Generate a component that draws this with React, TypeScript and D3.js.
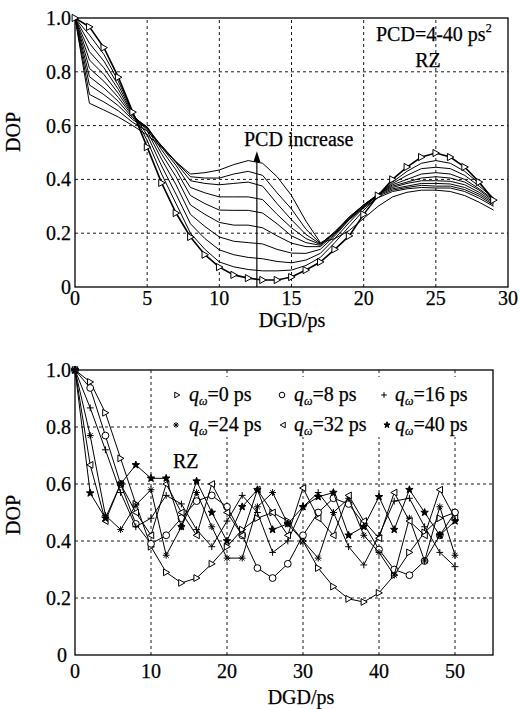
import React from 'react';
import * as d3 from 'd3';

// ---------- Top chart data ----------
const TOP_X = [0,1,2,3,4,5,6,7,8,9,10,11,12,13,14,15,16,17,18,19,20,21,22,23,24,25,26,27,28,29];
const PCD_VALUES = [4,8,12,16,20,24,28,32,36,40];
const PCD4 = [1,0.967,0.89,0.78,0.65,0.52,0.387,0.275,0.186,0.12,0.074,0.045,0.033,0.026,0.026,0.037,0.063,0.093,0.14,0.19,0.27,0.34,0.40,0.446,0.483,0.498,0.483,0.446,0.39,0.323];
const PCD8 = [1,0.937,0.865,0.765,0.648,0.545,0.42,0.31,0.20,0.14,0.093,0.075,0.065,0.06,0.06,0.063,0.08,0.11,0.165,0.225,0.285,0.34,0.39,0.43,0.46,0.47,0.46,0.43,0.385,0.33];
const PCD12 = [1,0.906,0.84,0.75,0.645,0.565,0.45,0.345,0.235,0.18,0.138,0.12,0.11,0.105,0.095,0.09,0.10,0.125,0.18,0.24,0.295,0.345,0.385,0.415,0.44,0.445,0.44,0.415,0.375,0.33];
const PCD16 = [1,0.875,0.815,0.735,0.642,0.58,0.475,0.38,0.27,0.225,0.186,0.17,0.165,0.16,0.14,0.126,0.125,0.14,0.19,0.25,0.30,0.345,0.38,0.40,0.42,0.425,0.42,0.40,0.365,0.325];
const PCD20 = [1,0.844,0.79,0.72,0.638,0.59,0.495,0.41,0.305,0.27,0.24,0.23,0.23,0.22,0.19,0.163,0.15,0.15,0.195,0.255,0.305,0.345,0.375,0.39,0.405,0.41,0.405,0.39,0.36,0.32];
const PCD24 = [1,0.813,0.765,0.705,0.634,0.595,0.51,0.435,0.34,0.31,0.286,0.285,0.285,0.275,0.235,0.19,0.165,0.155,0.20,0.26,0.305,0.345,0.37,0.385,0.395,0.395,0.393,0.38,0.352,0.315];
const PCD28 = [1,0.782,0.74,0.69,0.628,0.595,0.52,0.452,0.37,0.35,0.335,0.335,0.335,0.325,0.27,0.22,0.18,0.158,0.205,0.26,0.305,0.342,0.365,0.375,0.385,0.385,0.383,0.37,0.345,0.31];
const PCD32 = [1,0.751,0.715,0.674,0.622,0.59,0.525,0.462,0.395,0.385,0.38,0.385,0.39,0.375,0.31,0.25,0.195,0.16,0.205,0.255,0.30,0.338,0.36,0.37,0.378,0.375,0.375,0.362,0.338,0.305];
const PCD36 = [1,0.716,0.688,0.655,0.612,0.58,0.525,0.466,0.41,0.405,0.405,0.42,0.43,0.415,0.35,0.29,0.215,0.162,0.20,0.25,0.295,0.332,0.355,0.365,0.37,0.368,0.368,0.355,0.33,0.30];
const PCD40 = [1,0.683,0.658,0.632,0.60,0.565,0.52,0.465,0.42,0.425,0.435,0.455,0.47,0.46,0.41,0.34,0.245,0.165,0.18,0.21,0.255,0.30,0.335,0.352,0.36,0.36,0.355,0.34,0.315,0.286];
const TOP_SERIES = [PCD4, PCD8, PCD12, PCD16, PCD20, PCD24, PCD28, PCD32, PCD36, PCD40];
const TOP_XTICKS = [0,5,10,15,20,25,30];
const TOP_YTICKS = [0,0.2,0.4,0.6,0.8,1.0];

// ---------- Bottom chart data ----------
const BOT_X = [0,2,4,6,8,10,12,14,16,18,20,22,24,26,28,30,32,34,36,38,40,42,44,46,48,50];
const Q_VALUES = [0,8,16,24,32,40];
const Q0  = [1.0,0.958,0.85,0.69,0.53,0.38,0.29,0.253,0.27,0.32,0.38,0.44,0.48,0.5,0.47,0.40,0.305,0.24,0.197,0.186,0.218,0.28,0.36,0.43,0.48,0.5];
const Q8  = [1.0,0.937,0.77,0.60,0.46,0.39,0.42,0.48,0.54,0.56,0.52,0.42,0.305,0.27,0.32,0.42,0.50,0.55,0.53,0.46,0.37,0.30,0.28,0.33,0.42,0.50];
const Q16 = [1.0,0.867,0.72,0.57,0.45,0.48,0.56,0.53,0.44,0.38,0.47,0.56,0.5,0.36,0.4,0.52,0.57,0.5,0.38,0.316,0.42,0.54,0.55,0.45,0.36,0.31];
const Q24 = [1.0,0.77,0.49,0.44,0.526,0.58,0.35,0.45,0.57,0.45,0.34,0.34,0.52,0.57,0.46,0.40,0.34,0.5,0.55,0.42,0.36,0.28,0.48,0.33,0.52,0.35];
const Q32 = [1.0,0.667,0.47,0.6,0.5,0.42,0.6,0.5,0.42,0.6,0.5,0.42,0.58,0.5,0.42,0.586,0.48,0.42,0.56,0.47,0.41,0.57,0.47,0.42,0.58,0.48];
const Q40 = [1.0,0.568,0.48,0.6,0.667,0.62,0.62,0.45,0.61,0.5,0.40,0.52,0.58,0.44,0.46,0.52,0.555,0.57,0.42,0.45,0.555,0.44,0.58,0.5,0.42,0.47];
const BOT_SERIES = [Q0, Q8, Q16, Q24, Q32, Q40];
const BOT_MARKERS = ['tri-right', 'circle', 'plus', 'asterisk', 'tri-left', 'star'];
const BOT_XTICKS = [0,10,20,30,40,50];
const BOT_YTICKS = [0,0.2,0.4,0.6,0.8,1.0];

const FONT = "'Liberation Serif', 'DejaVu Serif', serif";

function markerPath(kind: string, s: number): string {
  switch (kind) {
    case 'tri-right':
      return `M${-s * 0.8},${-s} L${s},0 L${-s * 0.8},${s} Z`;
    case 'tri-left':
      return `M${s * 0.8},${-s} L${-s},0 L${s * 0.8},${s} Z`;
    case 'circle':
      return `M${s},0 A${s},${s} 0 1,1 ${-s},0 A${s},${s} 0 1,1 ${s},0 Z`;
    case 'plus':
      return `M${-s},0 L${s},0 M0,${-s} L0,${s}`;
    case 'asterisk': {
      const d = s * 0.72;
      return `M${-s},0 L${s},0 M0,${-s} L0,${s} M${-d},${-d} L${d},${d} M${-d},${d} L${d},${-d}`;
    }
    case 'star': {
      const pts: string[] = [];
      for (let i = 0; i < 10; i++) {
        const r = i % 2 === 0 ? s * 1.15 : s * 0.48;
        const a = -Math.PI / 2 + (i * Math.PI) / 5;
        pts.push(`${(r * Math.cos(a)).toFixed(2)},${(r * Math.sin(a)).toFixed(2)}`);
      }
      return `M${pts.join(' L')} Z`;
    }
  }
  return '';
}

function Grid({ x, y, xt, yt }: any) {
  const [x0, x1] = x.range();
  const [y0, y1] = y.range();
  return (
    <g stroke="#000" strokeWidth={0.9} strokeDasharray="3,3" fill="none">
      {xt.map((t: number) => (
        <line key={'gx' + t} x1={x(t)} x2={x(t)} y1={y0} y2={y1} />
      ))}
      {yt.map((t: number) => (
        <line key={'gy' + t} x1={x0} x2={x1} y1={y(t)} y2={y(t)} />
      ))}
    </g>
  );
}

const TXT = { fontSize: 20, stroke: '#000', strokeWidth: 0.25 } as const;

export default function App() {
  const xT = d3.scaleLinear().domain([0, 30]).range([75, 508]);
  const yT = d3.scaleLinear().domain([0, 1]).range([287, 18]);
  const xB = d3.scaleLinear().domain([0, 55]).range([75, 493]);
  const yB = d3.scaleLinear().domain([0, 1]).range([655, 370]);

  const lineT = d3.line<number>().x((_, i) => xT(TOP_X[i])).y((d) => yT(d));
  const lineB = d3.line<number>().x((_, i) => xB(BOT_X[i])).y((d) => yB(d));

  const legendItems = Q_VALUES.map((q, i) => ({ q, marker: BOT_MARKERS[i] }));
  const legendPos = [
    { mx: 177, tx: 189, y: 401 },
    { mx: 282, tx: 294, y: 401 },
    { mx: 384, tx: 395, y: 401 },
    { mx: 176, tx: 189, y: 431 },
    { mx: 283, tx: 294, y: 431 },
    { mx: 387, tx: 395, y: 431 },
  ];

  return (
    <svg
      width={520}
      height={709}
      style={{ position: 'absolute', left: 0, top: 0, background: '#fff' }}
      fontFamily={FONT}
    >
      <rect x={0} y={0} width={520} height={709} fill="#fff" />

      {/* ================= TOP CHART ================= */}
      <Grid x={xT} y={yT} xt={TOP_XTICKS.slice(1, -1)} yt={TOP_YTICKS.slice(1, -1)} />
      <rect x={75} y={18} width={508 - 75} height={287 - 18} fill="none" stroke="#000" strokeWidth={1.3} />
      {TOP_SERIES.map((s, i) => (
        <path key={'t' + i} d={lineT(s) || ''} fill="none" stroke="#000" strokeWidth={i === 0 ? 1.6 : 1} />
      ))}
      {PCD4.map((v, i) => (
        <path
          key={'tm' + i}
          d={markerPath('tri-right', 3.6)}
          transform={`translate(${xT(TOP_X[i])},${yT(v)})`}
          fill="#fff"
          stroke="#000"
          strokeWidth={1}
        />
      ))}
      <line x1={xT(12.6)} x2={xT(12.6)} y1={yT(0)} y2={yT(0.47)} stroke="#000" strokeWidth={1.2} />
      <path
        d={`M${xT(12.6)},${yT(0.505)} L${xT(12.6) - 3.5},${yT(0.465)} L${xT(12.6) + 3.5},${yT(0.465)} Z`}
        fill="#000"
      />
      <text x={244} y={146} {...TXT}>PCD increase</text>
      <text x={376} y={41} {...TXT}>
        PCD=4-40 ps<tspan fontSize={12} dy={-9}>2</tspan>
      </text>
      <text x={428} y={67} {...TXT} textAnchor="middle">RZ</text>
      {TOP_YTICKS.map((t) => (
        <text key={'ty' + t} x={71} y={yT(t) + 7} {...TXT} textAnchor="end">
          {t === 0 ? '0' : t.toFixed(1)}
        </text>
      ))}
      {TOP_XTICKS.map((t) => (
        <text key={'tx' + t} x={xT(t)} y={305} {...TXT} textAnchor="middle">
          {t}
        </text>
      ))}
      <text x={292} y={327} {...TXT} textAnchor="middle">DGD/ps</text>
      <text transform="translate(20,132) rotate(-90)" {...TXT} textAnchor="middle">DOP</text>

      {/* ================= BOTTOM CHART ================= */}
      <Grid x={xB} y={yB} xt={BOT_XTICKS.slice(1)} yt={BOT_YTICKS.slice(1, -1)} />
      <rect x={168} y={377} width={324} height={60} fill="#fff" />
      <rect x={75} y={370} width={493 - 75} height={655 - 370} fill="none" stroke="#000" strokeWidth={1.3} />
      {BOT_SERIES.map((s, i) => (
        <g key={'b' + i}>
          <path d={lineB(s) || ''} fill="none" stroke="#000" strokeWidth={1} />
          {s.map((v, j) => (
            <path
              key={j}
              d={markerPath(BOT_MARKERS[i], 3.4)}
              transform={`translate(${xB(BOT_X[j])},${yB(v)})`}
              fill={BOT_MARKERS[i] === 'star' ? '#000' : '#fff'}
              fillOpacity={BOT_MARKERS[i] === 'plus' || BOT_MARKERS[i] === 'asterisk' ? 0 : 1}
              stroke="#000"
              strokeWidth={1}
            />
          ))}
        </g>
      ))}
      {legendItems.map((it, i) => (
        <g key={'lg' + i}>
          <path
            d={markerPath(it.marker, 2.8)}
            transform={`translate(${legendPos[i].mx},${legendPos[i].y - 6})`}
            fill={it.marker === 'star' || it.marker === 'asterisk' ? '#000' : '#fff'}
            stroke="#000"
            strokeWidth={1}
          />
          <text x={legendPos[i].tx} y={legendPos[i].y} {...TXT}>
            <tspan fontStyle="italic">q</tspan>
            <tspan fontStyle="italic" fontSize={12} dy={4}>ω</tspan>
            <tspan dy={-4}>={it.q} ps</tspan>
          </text>
        </g>
      ))}
      <text x={173} y={468} {...TXT}>RZ</text>
      {BOT_YTICKS.map((t) => (
        <text key={'by' + t} x={t === 0 ? 67 : 71} y={yB(t) + 7} {...TXT} textAnchor="end">
          {t === 0 ? '0' : t.toFixed(1)}
        </text>
      ))}
      {BOT_XTICKS.map((t) => (
        <text key={'bx' + t} x={xB(t)} y={678} {...TXT} textAnchor="middle">
          {t}
        </text>
      ))}
      <text x={301} y={704} {...TXT} textAnchor="middle">DGD/ps</text>
      <text transform="translate(20,515) rotate(-90)" {...TXT} textAnchor="middle">DOP</text>
    </svg>
  );
}
